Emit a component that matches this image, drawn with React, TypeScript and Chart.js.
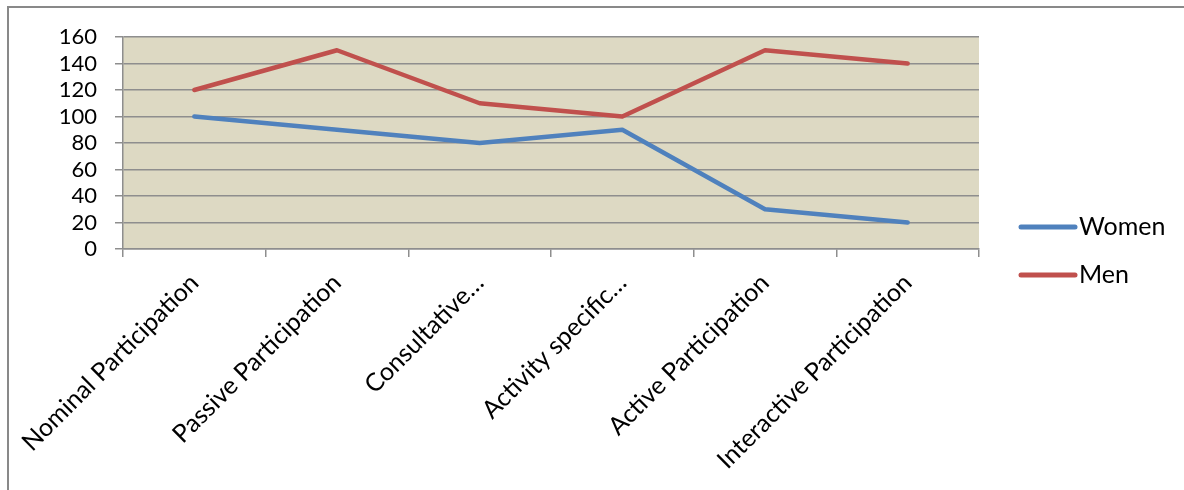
import React, { useEffect, useRef } from "react";
import { Chart, registerables } from "chart.js";

Chart.register(...registerables);

const categories = [
  "Nominal Participation",
  "Passive Participation",
  "Consultative…",
  "Activity specific…",
  "Active Participation",
  "Interactive Participation",
];
const womenValues = [100, 90, 80, 90, 30, 20];
const menValues = [120, 150, 110, 100, 150, 140];
const yTicks = [0, 20, 40, 60, 80, 100, 120, 140, 160];

const FONT = "Lato, 'Noto Sans', sans-serif";
const GRID = "#8E8E8E";

const plotBg = {
  id: "plotBg",
  beforeDraw(chart: any) {
    const { ctx, chartArea: a } = chart;
    ctx.save();
    ctx.fillStyle = "#DDD9C3";
    ctx.fillRect(a.left, a.top, a.right - a.left, a.bottom - a.top);
    ctx.restore();
  },
};

const sideLegend = {
  id: "sideLegend",
  afterDraw(chart: any) {
    const { ctx, chartArea: a } = chart;
    ctx.save();
    ctx.font = `25px ${FONT}`;
    ctx.textBaseline = "middle";
    ctx.fillStyle = "#000";
    chart.data.datasets.forEach((ds: any, i: number) => {
      const y = 227 + i * 48;
      const x0 = a.right + 42;
      ctx.strokeStyle = ds.borderColor;
      ctx.lineWidth = 5;
      ctx.lineCap = "round";
      ctx.beginPath();
      ctx.moveTo(x0, y);
      ctx.lineTo(x0 + 54, y);
      ctx.stroke();
      ctx.fillText(ds.label, x0 + 58, y);
    });
    ctx.restore();
  },
};

export default function App() {
  const ref = useRef<HTMLCanvasElement>(null);
  useEffect(() => {
    document.body.style.margin = "0";
    const chart = new Chart(ref.current!, {
      type: "line",
      data: {
        labels: categories,
        datasets: [
          {
            label: "Women",
            data: womenValues,
            borderColor: "#4F81BD",
            backgroundColor: "#4F81BD",
            borderWidth: 4.5,
            pointRadius: 0,
            tension: 0,
            borderCapStyle: "round",
            borderJoinStyle: "round",
          },
          {
            label: "Men",
            data: menValues,
            borderColor: "#C0504D",
            backgroundColor: "#C0504D",
            borderWidth: 4.5,
            pointRadius: 0,
            tension: 0,
            borderCapStyle: "round",
            borderJoinStyle: "round",
          },
        ],
      },
      options: {
        animation: false,
        responsive: false,
        devicePixelRatio: 1,
        layout: { padding: { left: 8, right: 205, top: 37, bottom: 0 } },
        plugins: {
          legend: { display: false },
          tooltip: { enabled: false },
        },
        scales: {
          x: {
            type: "category",
            offset: true,
            afterFit: (s: any) => {
              s.height = 241;
            },
            grid: {
              offset: true,
              drawOnChartArea: false,
              drawTicks: true,
              tickLength: 8,
              color: GRID,
              lineWidth: 1.5,
            },
            border: { display: true, color: GRID, width: 1.5 },
            ticks: {
              autoSkip: false,
              maxRotation: 45,
              minRotation: 45,
              padding: 11,
              color: "#000",
              font: { family: FONT, size: 25 },
            },
          },
          y: {
            min: 0,
            max: 160,
            afterFit: (s: any) => {
              s.width = 115;
            },
            afterBuildTicks: (s: any) => {
              s.ticks = yTicks.map((v) => ({ value: v }));
            },
            grid: {
              drawTicks: true,
              tickLength: 8,
              color: GRID,
              lineWidth: 1.5,
            },
            border: { display: true, color: GRID, width: 1.5 },
            ticks: {
              autoSkip: false,
              stepSize: 20,
              padding: 18,
              color: "#000",
              font: { family: FONT, size: 22 },
            },
          },
        },
      },
      plugins: [plotBg, sideLegend],
    });
    return () => chart.destroy();
  }, []);

  return (
    <div style={{ position: "relative", width: 1184, height: 490, overflow: "hidden", background: "#fff" }}>
      <canvas ref={ref} width={1184} height={490} style={{ display: "block" }} />
      <div
        style={{
          position: "absolute",
          left: 7,
          top: 6,
          width: 1200,
          height: 500,
          borderLeft: "2px solid #898989",
          borderTop: "2px solid #898989",
          pointerEvents: "none",
        }}
      />
    </div>
  );
}
